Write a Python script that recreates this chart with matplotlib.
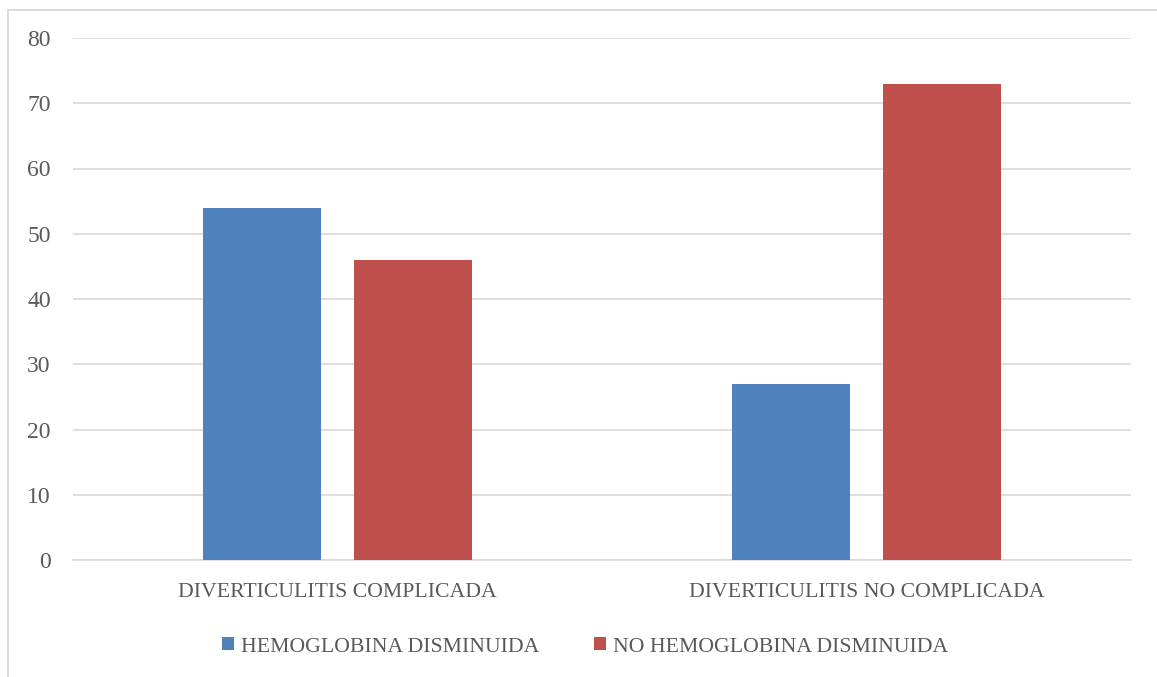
import matplotlib.pyplot as plt
from matplotlib.lines import Line2D
import numpy as np

categories = ['DIVERTICULITIS COMPLICADA', 'DIVERTICULITIS NO COMPLICADA']
series_names = ['HEMOGLOBINA DISMINUIDA', 'NO HEMOGLOBINA DISMINUIDA']
hemoglobina = [54, 27]
no_hemoglobina = [46, 73]
yticks = [0, 10, 20, 30, 40, 50, 60, 70, 80]

blue = '#4f81bd'
red = '#c0504d'
text_col = '#595959'
grid_col = '#d9d9d9'

plt.rcParams['font.family'] = ['Liberation Serif', 'DejaVu Serif']

W, H = 1157, 677
fig = plt.figure(figsize=(W / 100, H / 100), dpi=100)
# chart area border, cropped at right and bottom: only top and left show
fig.add_artist(Line2D([7.5 / W, 1], [1 - 9.5 / H] * 2, transform=fig.transFigure,
                      color=grid_col, linewidth=1.3))
fig.add_artist(Line2D([7.5 / W] * 2, [0, 1 - 9.5 / H], transform=fig.transFigure,
                      color=grid_col, linewidth=1.3))

ax = fig.add_axes([73 / W, 1 - 560 / H, (1131 - 73) / W, (560 - 38) / H])

x = np.arange(len(categories))
bw = 0.223
off = 0.1427
ax.bar(x - off, hemoglobina, bw, color=blue, label=series_names[0], zorder=3)
ax.bar(x + off, no_hemoglobina, bw, color=red, label=series_names[1], zorder=3)

ax.set_xlim(-0.5, len(categories) - 0.5)
ax.set_ylim(0, 80)
ax.set_yticks(yticks)
ax.set_xticks(x)
ax.set_xticklabels(categories)
ax.yaxis.grid(True, color=grid_col, linewidth=1.2, zorder=0)
for s in ['top', 'right', 'left']:
    ax.spines[s].set_visible(False)
ax.spines['bottom'].set_color(grid_col)
ax.spines['bottom'].set_linewidth(1.2)
ax.tick_params(axis='both', length=0, colors=text_col)
ax.tick_params(axis='y', labelsize=17, pad=16)
ax.tick_params(axis='x', labelsize=15.7, pad=16.5)

leg = fig.legend(loc='center', bbox_to_anchor=(585 / W, 1 - 647 / H), ncol=2,
                 frameon=False, fontsize=15.7, handlelength=0.55, handleheight=0.55,
                 handletextpad=0.32, columnspacing=2.5, labelcolor=text_col)

fig.savefig('out.png', dpi=100)
